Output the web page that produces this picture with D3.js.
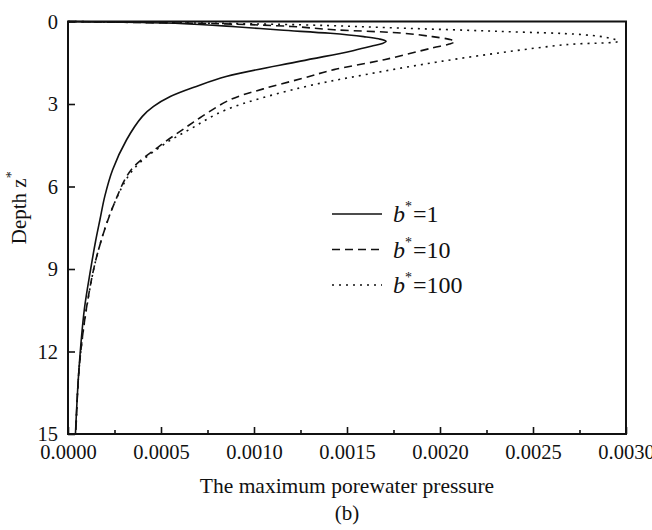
<!DOCTYPE html>
<html>
<head>
<meta charset="utf-8">
<script src="https://cdn.jsdelivr.net/npm/d3@7"></script>
<style>
  body { margin: 0; background: #fff; }
  svg text { font-family: "Liberation Serif", "DejaVu Serif", serif; fill: #111; }
</style>
</head>
<body>
<div id="chart"></div>
<script>
//--> Data: depth z* and maximum porewater pressure
const zB1 = [0, 0.02, 0.07, 0.19, 0.31, 0.43, 0.55, 0.63, 0.72, 0.8, 0.9, 1.08, 1.44, 2.0, 2.36, 2.73, 3.09, 3.45, 4.3, 5.39, 6.35, 7.2, 8.0, 9.0, 10.46, 12.64, 15];
const pB1 = [0, 0.0002, 0.0006, 0.0009, 0.00114, 0.00141, 0.00159, 0.00167, 0.00171, 0.00169, 0.00163, 0.00152, 0.00125, 0.00085, 0.00069, 0.00055, 0.00046, 0.0004, 0.000315, 0.00024, 0.000198, 0.000172, 0.000148, 0.000122, 0.000088, 0.000059, 0.00004];

const zB10 = [0, 0.03, 0.08, 0.18, 0.3, 0.42, 0.55, 0.65, 0.73, 0.82, 0.96, 1.39, 1.75, 2.05, 2.45, 2.85, 3.5, 3.82, 4.54, 5.39, 6.6, 8.4, 10.22, 12.6, 15];
const pB10 = [0, 0.0003, 0.0008, 0.0012, 0.00143, 0.00179, 0.00196, 0.00205, 0.00208, 0.00205, 0.00196, 0.0017, 0.00143, 0.00127, 0.00105, 0.00087, 0.00071, 0.00064, 0.00049, 0.00034, 0.00025, 0.00016, 0.000104, 0.00006, 0.000042];

const zB100 = [0, 0.03, 0.12, 0.24, 0.36, 0.48, 0.6, 0.72, 0.84, 1.14, 1.5, 1.93, 2.41, 3.21, 3.9, 4.54, 5.39, 6.6, 8.4, 10.22, 12.6, 15];
const pB100 = [0, 0.0004, 0.00125, 0.00179, 0.00232, 0.00277, 0.00291, 0.00296, 0.00268, 0.00232, 0.00196, 0.0016, 0.00125, 0.00085, 0.00066, 0.0005, 0.00035, 0.00025, 0.00016, 0.000105, 0.00006, 0.000042];

const seriesLabels = ["1", "10", "100"];
const dashStyles = [null, "8,5", "2,5"];

const xTicks = [0, 0.0005, 0.001, 0.0015, 0.002, 0.0025, 0.003];
const xMinorTicks = [0.00025, 0.00075, 0.00125, 0.00175, 0.00225, 0.00275];
const yTicks = [0, 3, 6, 9, 12, 15];

//--> Set up main elements
const width = 652;
const height = 530;
const margin = { top: 21.5, right: 26, bottom: 96, left: 68 };

const svg = d3
  .select("#chart")
  .append("svg")
  .attr("width", width)
  .attr("height", height);

const x = d3
  .scaleLinear()
  .domain([0, 0.003])
  .range([margin.left, width - margin.right]);

const y = d3
  .scaleLinear()
  .domain([0, 15])
  .range([margin.top, height - margin.bottom]);

//--> Axes
const xAxis = svg
  .append("g")
  .attr("transform", `translate(0, ${y(15)})`)
  .call(
    d3.axisBottom(x)
      .tickValues(xTicks)
      .tickSize(-7)
      .tickPadding(14)
      .tickFormat(d3.format(".4f"))
  );

svg
  .append("g")
  .attr("transform", `translate(0, ${y(15)})`)
  .call(d3.axisBottom(x).tickValues(xMinorTicks).tickSize(-4).tickFormat(""));

const yAxis = svg
  .append("g")
  .attr("transform", `translate(${x(0)}, 0)`)
  .call(d3.axisLeft(y).tickValues(yTicks).tickSize(-7).tickPadding(10));

svg.selectAll(".domain").remove();
svg.selectAll(".tick line").attr("stroke", "#111").attr("stroke-width", 1.6);
svg.selectAll(".tick text").attr("font-size", 20.5).attr("fill", "#111");
xAxis.selectAll(".tick text").attr("dy", "0.55em");
yAxis.selectAll(".tick text").attr("dy", "0.32em");

//--> Frame
svg
  .append("rect")
  .attr("x", x(0))
  .attr("y", y(0))
  .attr("width", x(0.003) - x(0))
  .attr("height", y(15) - y(0))
  .attr("fill", "none")
  .attr("stroke", "#111")
  .attr("stroke-width", 2);

//--> Curves
const series = [
  zB1.map((z, i) => ({ z, p: pB1[i] })),
  zB10.map((z, i) => ({ z, p: pB10[i] })),
  zB100.map((z, i) => ({ z, p: pB100[i] })),
];

const line = d3
  .line()
  .x(d => x(d.p))
  .y(d => y(d.z))
  .curve(d3.curveCatmullRom.alpha(0.5));

svg
  .append("g")
  .selectAll("path")
  .data(series)
  .join("path")
  .attr("d", line)
  .attr("fill", "none")
  .attr("stroke", "#111")
  .attr("stroke-width", 1.6)
  .attr("stroke-dasharray", (_, i) => dashStyles[i]);

//--> Legend
const legend = svg.append("g").attr("transform", "translate(332, 214)");
const rowGap = 35.5;

legend
  .selectAll("line")
  .data(seriesLabels)
  .join("line")
  .attr("x1", 0)
  .attr("x2", 50)
  .attr("y1", (_, i) => i * rowGap)
  .attr("y2", (_, i) => i * rowGap)
  .attr("stroke", "#111")
  .attr("stroke-width", 1.6)
  .attr("stroke-dasharray", (_, i) => dashStyles[i]);

const legendText = legend
  .selectAll("text")
  .data(seriesLabels)
  .join("text")
  .attr("x", 61)
  .attr("y", (_, i) => i * rowGap + 8)
  .attr("font-size", 24);

legendText.append("tspan").attr("font-style", "italic").text("b");
legendText.append("tspan").attr("font-size", 14).attr("dy", -11).text("*");
legendText.append("tspan").attr("dy", 11).attr("dx", 1).text(d => `=${d}`);

//--> Axis titles
svg
  .append("text")
  .attr("x", (x(0) + x(0.003)) / 2)
  .attr("y", 493)
  .attr("text-anchor", "middle")
  .attr("font-size", 21.5)
  .text("The maximum porewater pressure");

svg
  .append("text")
  .attr("x", (x(0) + x(0.003)) / 2)
  .attr("y", 520)
  .attr("text-anchor", "middle")
  .attr("font-size", 21)
  .text("(b)");

const yTitle = svg
  .append("text")
  .attr("transform", `translate(26, ${y(7.5) - 20}) rotate(-90)`)
  .attr("text-anchor", "middle")
  .attr("font-size", 21);

yTitle.append("tspan").text("Depth z");
yTitle.append("tspan").attr("font-size", 14).attr("dy", -10).text("*");
</script>
</body>
</html>
